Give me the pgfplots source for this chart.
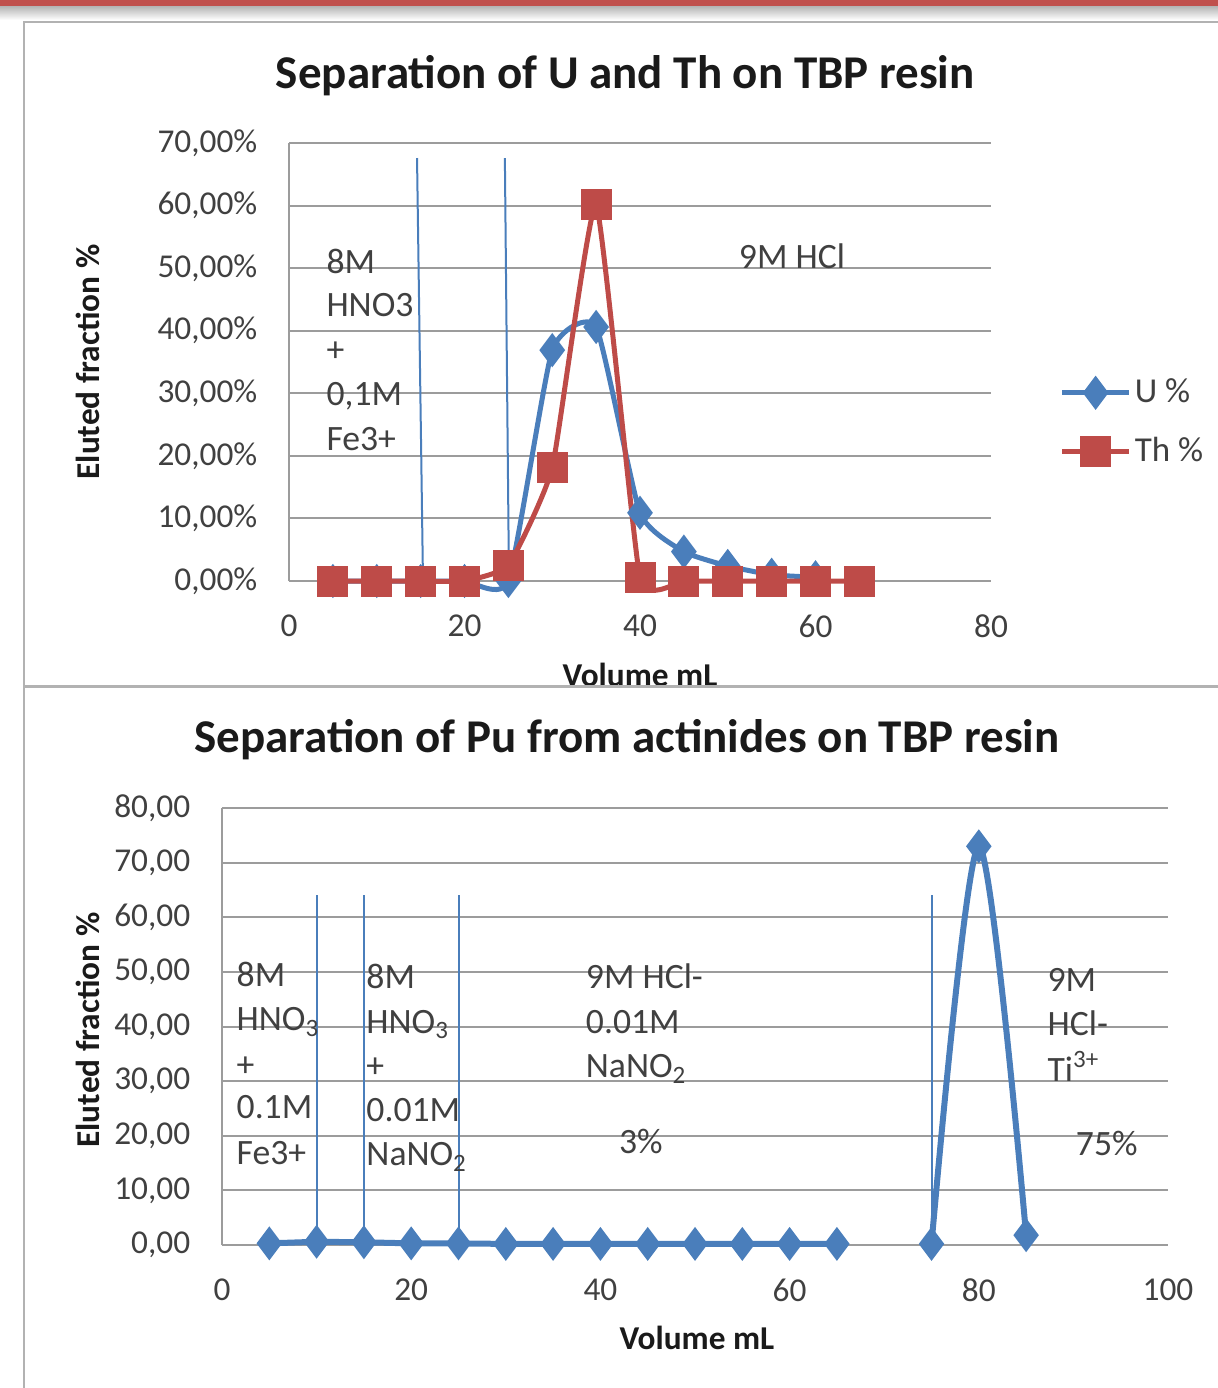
\documentclass[border=0pt]{standalone}
\usepackage{pgfplots}
\pgfplotsset{compat=1.18}
\usepackage{fontspec}
\setmainfont{Carlito}
\definecolor{xlblue}{HTML}{4A7EBB}
\definecolor{xlred}{HTML}{BE4B48}
\definecolor{barred}{HTML}{C0504D}
\definecolor{gridgray}{HTML}{9C9C9C}
\definecolor{txt}{HTML}{404040}
\definecolor{ttl}{HTML}{1A1A1A}
\newcommand{\tickfont}{\fontsize{10}{12}\selectfont}
\newcommand{\annfont}{\fontsize{10.7}{12}\selectfont}
\begin{document}
\begin{tikzpicture}
\path[use as bounding box] (0pt,0pt) rectangle (365.4pt,-416.4pt);
\fill[barred] (0pt,0pt) rectangle (365.4pt,-2.1pt);
\shade[top color=gray!55, bottom color=white] (0pt,-2.1pt) rectangle (365.4pt,-6pt);
\draw[gray!60, line width=0.6pt] (7.2pt,-416.4pt) -- (7.2pt,-6.6pt) -- (365.4pt,-6.6pt);

\pgfplotsset{
  every axis/.append style={
    scale only axis,
    axis x line*=bottom, axis y line*=left,
    axis line style={gridgray, line width=0.6pt},
    ymajorgrids, major grid style={gridgray, line width=0.6pt},
    major tick length=0pt,
    tick label style={font=\tickfont, color=txt},
    /pgf/number format/assume math mode=true,
    xticklabel style={yshift=-6.6pt},
    yticklabel style={xshift=-6pt},
    xlabel style={font=\fontsize{10}{12}\selectfont\bfseries, color=ttl, anchor=center},
    ylabel style={font=\fontsize{10}{12}\selectfont\bfseries, color=ttl, anchor=center, rotate=0},
    clip=false,
  }
}

% ---------------- Top chart ----------------
\begin{axis}[
  at={(86.7pt,-174.3pt)}, anchor=south west,
  width=210.6pt, height=131.4pt,
  xmin=0, xmax=80, ymin=0, ymax=70,
  xtick={0,20,40,60,80}, ytick={0,10,...,70},
  yticklabel={\pgfmathprintnumber[fixed,fixed zerofill,precision=2,use comma]{\tick}\%},
  title={Separation of U and Th on TBP resin},
  every axis title/.style={at={(axis description cs:0.479,1.153)}, anchor=center, font=\fontsize{14.1}{16}\selectfont\bfseries, color=ttl},
  xlabel={Volume mL},
  xlabel style={at={(axis description cs:0.5,-0.215)}},
  ylabel={Eluted fraction \%},
  ylabel style={at={(axis description cs:-0.286,0.5)}},
  legend style={at={(axis description cs:1.097,0.362)}, anchor=west, draw=none, fill=none,
    font=\fontsize{10.5}{12}\selectfont\color{txt}, row sep=7pt, inner sep=0pt,
    nodes={inner sep=1pt}},
  legend cell align=left,
  legend image code/.code={\draw[#1,mark repeat=2,mark phase=2] plot coordinates {(0pt,0pt)(10pt,0pt)(20pt,0pt)};},
]
\addplot[xlblue, line width=1.5pt, smooth, tension=0.3, mark=diamond*, mark size=3.9pt, mark options={solid}]
  coordinates {(5,0)(10,0)(15,0)(20,0)(25,0)(30,36.9)(35,40.6)(40,10.9)(45,4.7)(50,2.4)(55,1.0)(60,0.6)};
\addlegendentry{U \%}
\addplot[xlred, line width=1.5pt, smooth, tension=0.25, mark=square*, mark size=3.9pt, mark options={solid}]
  coordinates {(5,0)(10,0)(15,0)(20,0)(25,2.5)(30,18.1)(35,60.1)(40,0.5)(45,0)(50,0)(55,0)(60,0)(65,0)};
\addlegendentry{Th \%}
\addplot[xlblue, line width=0.6pt, forget plot] coordinates {(15.27,0)(14.59,67.6)};
\addplot[xlblue, line width=0.6pt, forget plot] coordinates {(25.07,0)(24.6,67.6)};
\node[anchor=base west, inner sep=0pt, font=\annfont, color=txt] at (axis cs:4.2,49.2) {8M};
\node[anchor=base west, inner sep=0pt, font=\annfont, color=txt] at (axis cs:4.2,42.2) {HNO3};
\node[anchor=base west, inner sep=0pt, font=\annfont, color=txt] at (axis cs:4.2,35.0) {+};
\node[anchor=base west, inner sep=0pt, font=\annfont, color=txt] at (axis cs:4.2,28.0) {0,1M};
\node[anchor=base west, inner sep=0pt, font=\annfont, color=txt] at (axis cs:4.2,20.8) {Fe3+};
\node[anchor=base west, inner sep=0pt, font=\annfont, color=txt] at (axis cs:51.2,49.9) {9M HCl};
\end{axis}

% ---------------- Bottom chart ----------------
\begin{axis}[
  at={(66.6pt,-373.5pt)}, anchor=south west,
  width=283.8pt, height=131.1pt,
  xmin=0, xmax=100, ymin=0, ymax=80,
  xtick={0,20,40,60,80,100}, ytick={0,10,...,80},
  yticklabel={\pgfmathprintnumber[fixed,fixed zerofill,precision=2,use comma]{\tick}},
  title={Separation of Pu from actinides on TBP resin},
  every axis title/.style={at={(axis description cs:0.428,1.156)}, anchor=center, font=\fontsize{14.1}{16}\selectfont\bfseries, color=ttl},
  xlabel={Volume mL},
  xlabel style={at={(axis description cs:0.502,-0.213)}},
  ylabel={Eluted fraction \%},
  ylabel style={at={(axis description cs:-0.1417,0.492)}},
]
\addplot[xlblue, line width=1.8pt, mark=diamond*, mark size=3.6pt, mark options={solid}]
  coordinates {(5,0.3)(10,0.6)(15,0.5)(20,0.3)(25,0.3)(30,0.2)(35,0.2)(40,0.2)(45,0.2)(50,0.2)(55,0.2)(60,0.2)(65,0.2)};
\addplot[xlblue, line width=1.8pt, smooth, tension=0.5, mark=diamond*, mark size=3.6pt, mark options={solid}]
  coordinates {(75,0.2)(80,73.0)(85,1.8)};
\addplot[xlblue, line width=0.6pt] coordinates {(10,0)(10,64.1)};
\addplot[xlblue, line width=0.6pt] coordinates {(15,0)(15,64.1)};
\addplot[xlblue, line width=0.6pt] coordinates {(25,0)(25,64.1)};
\addplot[xlblue, line width=0.6pt] coordinates {(75,0)(75,64.1)};
\tikzset{ann/.style={anchor=base west, inner sep=0pt, font=\annfont, color=txt}}
\node[ann] at (axis cs:1.48,47.4) {8M};
\node[ann] at (axis cs:1.48,39.2) {HNO\textsubscript{3}};
\node[ann] at (axis cs:1.48,30.9) {+};
\node[ann] at (axis cs:1.48,23.1) {0.1M};
\node[ann] at (axis cs:1.48,14.8) {Fe3+};
\node[ann] at (axis cs:15.2,47.0) {8M};
\node[ann] at (axis cs:15.2,38.8) {HNO\textsubscript{3}};
\node[ann] at (axis cs:15.2,30.6) {+};
\node[ann] at (axis cs:15.2,22.7) {0.01M};
\node[ann] at (axis cs:15.2,14.5) {NaNO\textsubscript{2}};
\node[ann] at (axis cs:38.4,47.0) {9M HCl-};
\node[ann] at (axis cs:38.4,38.8) {0.01M};
\node[ann] at (axis cs:38.4,30.6) {NaNO\textsubscript{2}};
\node[ann] at (axis cs:41.9,16.8) {3\%};
\node[ann] at (axis cs:87.2,46.5) {9M};
\node[ann] at (axis cs:87.2,38.3) {HCl-};
\node[ann] at (axis cs:87.2,30.0) {Ti\textsuperscript{3+}};
\node[ann] at (axis cs:90.2,16.3) {75\%};
\end{axis}

\draw[gray!60, line width=0.9pt] (7.2pt,-205.8pt) -- (365.4pt,-205.8pt);
\end{tikzpicture}
\end{document}
